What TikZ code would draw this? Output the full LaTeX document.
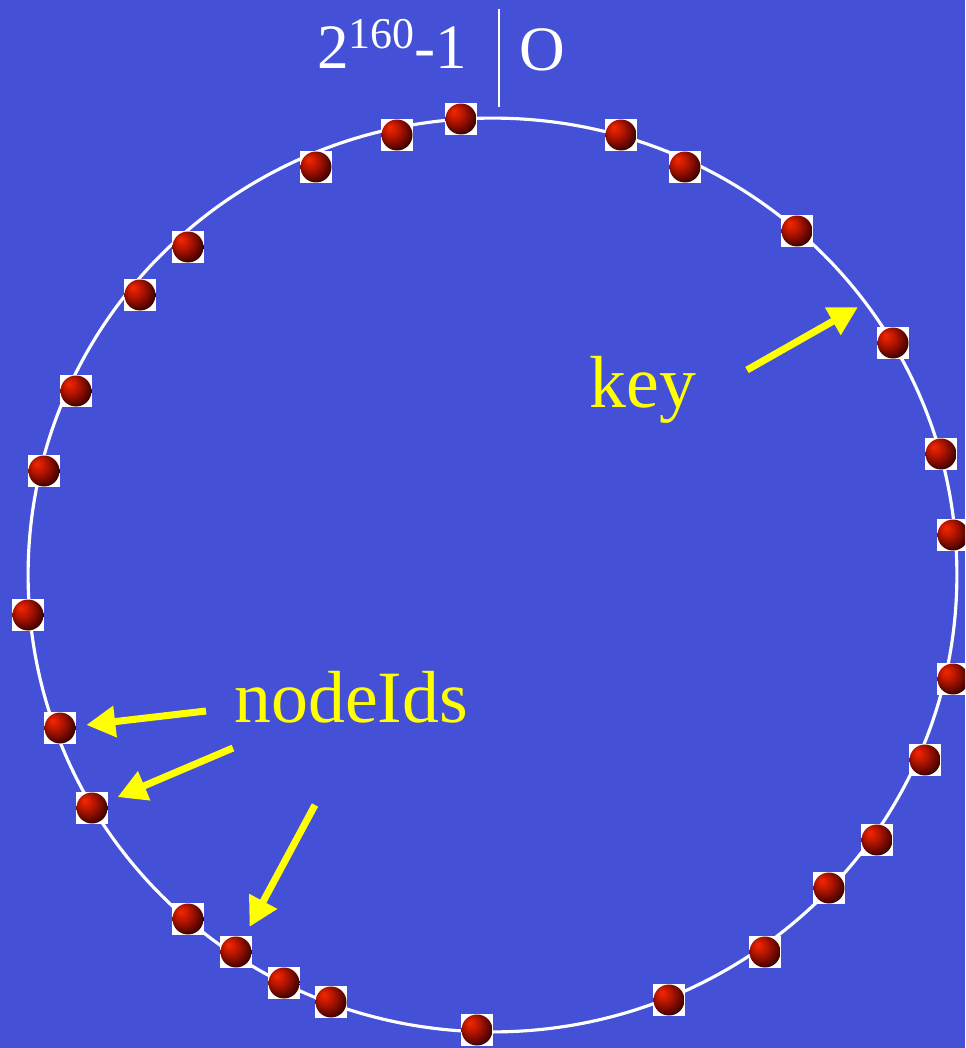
\documentclass[tikz,border=0pt]{standalone}
\usepackage{fontspec}
\setmainfont{Liberation Serif}
\usetikzlibrary{arrows.meta}

\definecolor{slidebg}{RGB}{68,80,214}
\definecolor{ballhi}{RGB}{245,40,0}
\definecolor{ballmid}{RGB}{185,22,0}
\definecolor{balldark}{RGB}{60,0,0}
\definecolor{labelyellow}{RGB}{255,255,0}

\pgfdeclareradialshading{redball}{\pgfpoint{-12bp}{12bp}}{%
  color(0bp)=(ballhi); color(12bp)=(ballmid); color(30bp)=(balldark);
  color(44bp)=(black); color(50bp)=(black)}

\begin{document}
\begin{tikzpicture}[
  x=0.02cm, y=-0.02cm,
  ring/.style={white, line width=1.8pt},
  peer/.style={fill=white, minimum size=0.64cm, inner sep=0pt,
    path picture={\shade[shading=redball] (path picture bounding box.center) circle (0.31cm);}},
  tag/.style={text=labelyellow, font=\fontsize{42}{48}\selectfont, anchor=base west, inner sep=0pt},
  idtext/.style={text=white, font=\fontsize{36}{42}\selectfont, anchor=base west, inner sep=0pt},
  pointer/.style={labelyellow, line width=4pt, -{Triangle[length=0.58cm, width=0.6cm]}}
]
\clip (0,0) rectangle (965,1048);
\fill[slidebg] (0,0) rectangle (965,1048);

% identifier ring
\draw[ring] (492.5,575) ellipse [x radius=9.29cm, y radius=9.14cm];
\draw[white, line width=1.5pt] (499,9) -- (499,107);
\node[idtext] (top) at (317,68) {2\raisebox{0.4cm}{\fontsize{25}{28}\selectfont 160}-1};
\node[idtext] (zero) at (519,70) {O};

% peers on the ring
\foreach \px/\py [count=\i] in {461/119, 397/135, 316/167, 188/247, 140/295, 76/391,
    44/471, 28/615, 60/728, 92/808, 188/919, 236/952, 284/983, 331/1002, 477/1030,
    669/1000, 765/952, 829/888, 877/840, 925/760, 953/679, 953/535, 941/454,
    893/343, 797/231, 685/167, 621/135}
  \node[peer] (p\i) at (\px,\py) {};

% labels
\node[tag] (keylbl) at (589,407) {key};
\node[tag] (idslbl) at (234,722) {nodeIds};

\coordinate (keytail) at (747,370);
\coordinate (keyhit) at (858,307);
\coordinate (idtail1) at (206,711);
\coordinate (idtail2) at (233,748);
\coordinate (idtail3) at (315,805);

\draw[pointer] (keytail) -- (keyhit);
\draw[pointer, shorten >=0.2cm] (idtail1) -- (p9);
\draw[pointer, shorten >=0.2cm] (idtail2) -- (p10);
\draw[pointer, shorten >=0.2cm] (idtail3) -- (p12);

\end{tikzpicture}
\end{document}
